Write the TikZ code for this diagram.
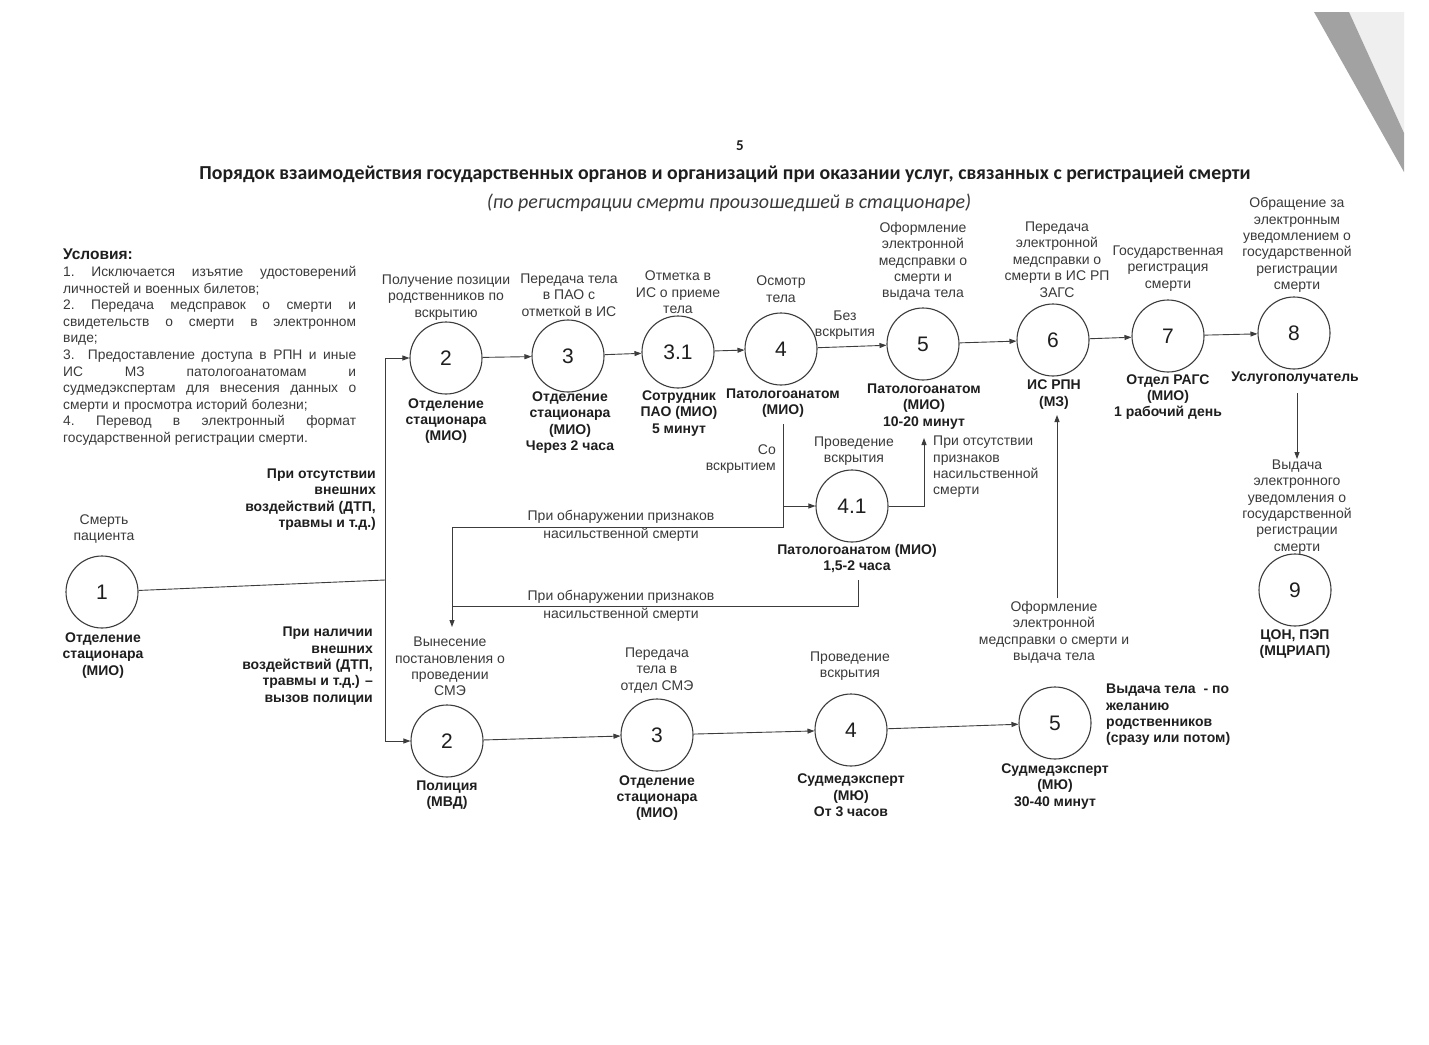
\documentclass[tikz,border=0pt]{standalone}
\usepackage{fontspec}
\setmainfont{Liberation Sans}
\newfontfamily\titlefont{Carlito}
\usetikzlibrary{arrows.meta}
\definecolor{linec}{HTML}{3C3C3C}
\definecolor{txtc}{HTML}{1E1E1E}
\definecolor{regc}{HTML}{3A3A3A}
\definecolor{wedge}{HTML}{A2A2A2}
\definecolor{wedgel}{HTML}{EFEFEF}
\begin{document}
\begin{tikzpicture}[x=1pt,y=-1pt,
  circ/.style={circle,draw=linec,line width=1.1pt,minimum size=72pt,inner sep=0pt,
    font=\fontsize{21}{21}\selectfont,text=txtc},
  lab/.style={align=center,inner sep=0pt,font=\fontsize{14}{16.4}\selectfont,text=regc},
  lab0/.style={align=center,inner sep=0pt,font=\fontsize{14}{17.5}\selectfont,text=regc},
  blab/.style={align=center,inner sep=0pt,font=\fontsize{14}{16.4}\selectfont\bfseries,text=txtc},
  conn/.style={draw=linec,line width=0.9pt},
  arr/.style={conn,-{Triangle[length=7pt,width=5pt]}},
]
\useasboundingbox (0,0) rectangle (1429,1044);
\fill[white] (0,0) rectangle (1429,1044);
\fill[wedgel] (1349,12) -- (1404,12) -- (1404,133) -- cycle;
\fill[wedge] (1314,12) -- (1349,12) -- (1404,133) -- (1404,172) -- cycle;

% titles
\node[inner sep=0pt,text=txtc] (pg) at (740,146) {\titlefont\bfseries\fontsize{15}{15}\selectfont 5};
\node[inner sep=0pt,text=txtc] (title) at (725,174) {\titlefont\bfseries\fontsize{19.8}{20}\selectfont Порядок взаимодействия государственных органов и организаций при оказании услуг, связанных с регистрацией смерти};
\node[inner sep=0pt,text=regc] (subtitle) at (729,203) {\titlefont\itshape\fontsize{20}{20}\selectfont (по регистрации смерти произошедшей в стационаре)};

% conditions
\node[anchor=north west,inner sep=0pt,align=left,text=regc,
  font=\fontsize{13.8}{16.6}\selectfont] (cond) at (63,249) {%
{\fontsize{15.5}{16.6}\selectfont\bfseries\color{txtc}Условия:}\\
\makebox[293pt][s]{1.\ Исключается изъятие удостоверений}\\
личностей и военных билетов;\\
\makebox[293pt][s]{2.\ Передача медсправок о смерти и}\\
\makebox[293pt][s]{свидетельств о смерти в электронном}\\
виде;\\
\makebox[293pt][s]{3. Предоставление доступа в РПН и иные}\\
\makebox[293pt][s]{ИС МЗ патологоанатомам и}\\
\makebox[293pt][s]{судмедэкспертам для внесения данных о}\\
смерти и просмотра историй болезни;\\
\makebox[293pt][s]{4.\ Перевод в электронный формат}\\
государственной регистрации смерти.};

% circles
\node[circ] (n1) at (102,592) {1};
\node[circ] (u2) at (446,358) {2};
\node[circ] (u3) at (568,356) {3};
\node[circ] (u31) at (678,352) {3.1};
\node[circ] (u4) at (781,349) {4};
\node[circ] (u5) at (923,344) {5};
\node[circ] (u6) at (1053,340) {6};
\node[circ] (u7) at (1168,336) {7};
\node[circ] (u8) at (1294,333) {8};
\node[circ] (n41) at (852,506) {4.1};
\node[circ] (n9) at (1295,590) {9};
\node[circ] (l2) at (447,741) {2};
\node[circ] (l3) at (657,735) {3};
\node[circ] (l4) at (851,730) {4};
\node[circ] (l5) at (1055,723) {5};

% labels above
\node[lab] (t1) at (104,529) {Смерть\\пациента};
\node[lab] (tu2) at (446,297.5) {Получение позиции\\родственников по\\вскрытию};
\node[lab] (tu3) at (569,295) {Передача тела\\в ПАО с\\отметкой в ИС};
\node[lab] (tu31) at (678,292.5) {Отметка в\\ИС о приеме\\тела};
\node[lab] (tu4) at (781,289) {Осмотр\\тела};
\node[lab] (tu5) at (923,261.5) {Оформление\\электронной\\медсправки о\\смерти и\\выдача тела};
\node[lab] (tu6) at (1057,259.5) {Передача\\электронной\\медсправки о\\смерти в ИС РП\\ЗАГС};
\node[lab] (tu7) at (1168,268.5) {Государственная\\регистрация\\смерти};
\node[lab] (tu8) at (1297,245) {Обращение за\\электронным\\уведомлением о\\государственной\\регистрации\\смерти};
\node[lab] (t9) at (1297,507) {Выдача\\электронного\\уведомления о\\государственной\\регистрации\\смерти};
\node[lab] (t41) at (854,451) {Проведение\\вскрытия};
\node[lab] (tl2) at (450,666.5) {Вынесение\\постановления о\\проведении\\СМЭ};
\node[lab] (tl3) at (657,670.5) {Передача\\тела в\\отдел СМЭ};
\node[lab] (tl4) at (850,666) {Проведение\\вскрытия};
\node[lab] (tl5) at (1054,632.5) {Оформление\\электронной\\медсправки о смерти и\\выдача тела};

% labels below (bold)
\node[blab] (b1) at (103,655.5) {Отделение\\стационара\\(МИО)};
\node[blab] (bu2) at (446,421) {Отделение\\стационара\\(МИО)};
\node[blab] (bu3) at (570,422.5) {Отделение\\стационара\\(МИО)\\Через 2 часа};
\node[blab] (bu31) at (679,413.5) {Сотрудник\\ПАО (МИО)\\5 минут};
\node[blab] (bu4) at (783,403) {Патологоанатом\\(МИО)};
\node[blab] (bu5) at (924,406.5) {Патологоанатом\\(МИО)\\10-20 минут};
\node[blab] (bu6) at (1054,394.5) {ИС РПН\\(МЗ)};
\node[blab] (bu7) at (1168,397) {Отдел РАГС\\(МИО)\\1 рабочий день};
\node[blab] (bu8) at (1295,378) {Услугополучатель};
\node[blab] (b9) at (1295,644) {ЦОН, ПЭП\\(МЦРИАП)};
\node[blab] (b41) at (857,558.5) {Патологоанатом (МИО)\\1,5-2 часа};
\node[blab] (bl2) at (447,795) {Полиция\\(МВД)};
\node[blab] (bl3) at (657,798) {Отделение\\стационара\\(МИО)};
\node[blab] (bl4) at (851,795.5) {Судмедэксперт\\(МЮ)\\От 3 часов};
\node[blab] (bl5) at (1055,786.5) {Судмедэксперт\\(МЮ)\\30-40 минут};
\node[blab,align=left,anchor=west] (rl5) at (1106,715) {Выдача тела \ - по\\желанию\\родственников\\(сразу или потом)};

% edge labels
\node[lab] (bez) at (845,325) {Без\\вскрытия};
\node[lab,align=right,anchor=east] (so) at (776,459) {Со\\вскрытием};
\node[lab,align=left,anchor=west] (otsut) at (933,467) {При отсутствии\\признаков\\насильственной\\смерти};
\node[blab,align=right,anchor=east] (c1) at (376,499.5) {При отсутствии\\внешних\\воздействий (ДТП,\\травмы и т.д.)};
\node[blab,align=right,anchor=east] (c2) at (373,666) {При наличии\\внешних\\воздействий (ДТП,\\травмы и т.д.) –\\вызов полиции};
\node[lab0] (obn1) at (621,526) {При обнаружении признаков\\насильственной смерти};
\node[lab0] (obn2) at (621,606) {При обнаружении признаков\\насильственной смерти};

% junction coordinates
\coordinate (jt) at (385,358);
\coordinate (jm) at (385,580);
\coordinate (jb) at (385,741);
\coordinate (c4) at (783,424);
\coordinate (c4b) at (783,527);
\coordinate (vx) at (452,627);
\coordinate (c41b) at (858,580);
\coordinate (v2) at (452,606);
\coordinate (t5b) at (924,438);
\coordinate (l5t) at (1057,598);
\coordinate (u6b) at (1057,415);
\coordinate (u8b) at (1297,393);
\coordinate (t9t) at (1297,459);

% connectors
\draw[conn] (n1) -- (jm);
\draw[conn] (jt) -- (jb);
\draw[arr] (jt) -- (u2);
\draw[arr] (jb) -- (l2);
\draw[arr] (u2) -- (u3);
\draw[arr] (u3) -- (u31);
\draw[arr] (u31) -- (u4);
\draw[arr] (u4) -- (u5);
\draw[arr] (u5) -- (u6);
\draw[arr] (u6) -- (u7);
\draw[arr] (u7) -- (u8);
\draw[arr] (c4) |- (n41);
\draw[arr] (c4) -- (c4b) -| (vx);
\draw[conn] (c41b) |- (v2);
\draw[arr] (n41) -| (t5b);
\draw[arr] (l5t) -- (u6b);
\draw[arr] (u8b) -- (t9t);
\draw[arr] (l2) -- (l3);
\draw[arr] (l3) -- (l4);
\draw[arr] (l4) -- (l5);
\end{tikzpicture}
\end{document}
